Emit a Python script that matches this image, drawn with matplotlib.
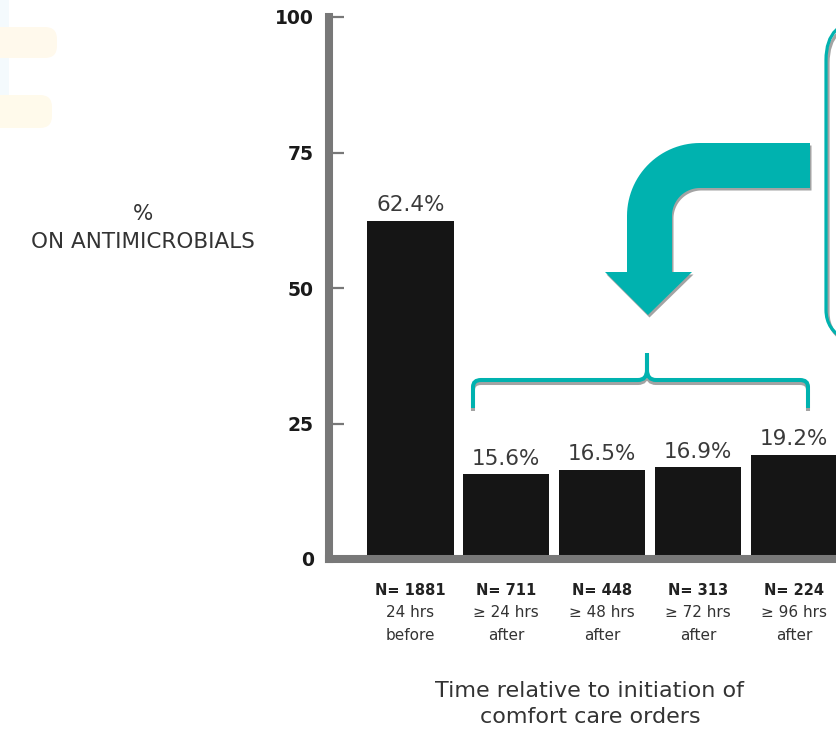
import matplotlib
matplotlib.use('Agg')
import matplotlib.pyplot as plt
import numpy as np
from matplotlib.path import Path
from matplotlib.patches import PathPatch, FancyBboxPatch, Polygon, Rectangle

# data
pct = [62.4, 15.6, 16.5, 16.9, 19.2]
n_labels = ['N= 1881', 'N= 711', 'N= 448', 'N= 313', 'N= 224']
time_labels = ['24 hrs\nbefore', '≥ 24 hrs\nafter', '≥ 48 hrs\nafter',
               '≥ 72 hrs\nafter', '≥ 96 hrs\nafter']
yticks = [0, 25, 50, 75, 100]

teal = '#00B2AF'
shadow = '#a3a3a3'
spine_gray = '#787878'

plt.rcParams['font.family'] = ['DejaVu Sans']

fig = plt.figure(figsize=(8.37, 7.33), dpi=100)
ax = fig.add_axes([329/837, 174/733, 508/837, 542/733])

x = np.arange(len(pct))
ax.bar(x, pct, width=0.9, color='#151515', zorder=1)
ax.set_xlim(-0.85, 4.45)
ax.set_ylim(0, 100)

for s in ['top', 'right']:
    ax.spines[s].set_visible(False)
for s in ['left', 'bottom']:
    ax.spines[s].set_color(spine_gray)
    ax.spines[s].set_linewidth(5.8)
    ax.spines[s].set_capstyle('projecting')
    ax.spines[s].set_zorder(3)

ax.set_yticks(yticks)
ax.tick_params(axis='y', direction='in', length=11, width=1.6, color=spine_gray,
               pad=11, labelsize=13.5, labelcolor='#1a1a1a')
for lab in ax.get_yticklabels():
    lab.set_fontweight('bold')

ax.set_xticks(x)
ax.set_xticklabels(n_labels, fontweight='bold', fontsize=10.5, color='#222222')
ax.tick_params(axis='x', length=0, pad=17)

# value labels
for i, v in enumerate(pct):
    ax.annotate(f'{v}%', (i, v), xytext=(0, 4), textcoords='offset points',
                ha='center', va='bottom', fontsize=15.5, color='#3a3a3a')

# time labels under N
for i, t in enumerate(time_labels):
    ax.annotate(t, xy=(i, 0), xycoords=('data', 'axes fraction'),
                xytext=(0, -33), textcoords='offset points',
                ha='center', va='top', fontsize=11, color='#333333',
                linespacing=1.7, annotation_clip=False)

fig.text(143/837, 1 - 228/733, '%\nON ANTIMICROBIALS', ha='center', va='center',
         fontsize=15.5, color='#333333', linespacing=1.45)
fig.text(590/837, 1 - 704/733, 'Time relative to initiation of\ncomfort care orders',
         ha='center', va='center', fontsize=16, color='#333333', linespacing=1.35)

# overlay for decorations (pixel coords)
ov = fig.add_axes([0, 0, 1, 1], zorder=5)
ov.set_xlim(0, 837)
ov.set_ylim(733, 0)
ov.axis('off')


def arc(cx, cy, r, a0, a1, n=30):
    t = np.radians(np.linspace(a0, a1, n))
    return np.column_stack([cx + r*np.cos(t), cy - r*np.sin(t)])


pts = np.vstack([[[810, 143]], arc(700, 216, 73, 90, 180),
                 [[627, 272], [605, 272], [648, 315], [692, 272], [672, 272]],
                 arc(700, 216, 28, 180, 90), [[810, 188]]])
ov.add_patch(Polygon(pts + [1.5, 2.5], closed=True, fc=shadow, ec='none'))
ov.add_patch(Polygon(pts, closed=True, fc=teal, ec='none'))

# bracket
M, L, C = Path.MOVETO, Path.LINETO, Path.CURVE3
verts = [(473, 408), (473, 387), (473, 380), (481, 380), (638, 380), (647, 380),
         (647, 370), (647, 353), (647, 370), (647, 380), (656, 380), (800, 380),
         (808, 380), (808, 387), (808, 408)]
codes = [M, L, C, C, L, C, C, L, L, C, C, L, C, C, L]
vb = np.array(verts, dtype=float)
ov.add_patch(PathPatch(Path(vb + [0, 3], codes), fill=False, ec=shadow, lw=2.9,
                       capstyle='butt'))
ov.add_patch(PathPatch(Path(vb, codes), fill=False, ec=teal, lw=2.9, capstyle='butt'))

# rounded text box at right (cut off)
ov.add_patch(FancyBboxPatch((828, 23), 120, 330, boxstyle='round,pad=0,rounding_size=40',
                            fill=False, ec=shadow, lw=2.3))
ov.add_patch(FancyBboxPatch((826, 20), 120, 330, boxstyle='round,pad=0,rounding_size=40',
                            fill=False, ec=teal, lw=2.3))

# faint page remnants at left
ov.add_patch(Rectangle((0, 0), 9, 125, fc='#F4FAFD', ec='none'))
ov.add_patch(FancyBboxPatch((-20, 27), 77, 31, boxstyle='round,pad=0,rounding_size=12',
                            fc='#FFF9EC', ec='none'))
ov.add_patch(FancyBboxPatch((-20, 95), 72, 33, boxstyle='round,pad=0,rounding_size=12',
                            fc='#FFFAEB', ec='none'))

fig.savefig('out.png', dpi=100)
